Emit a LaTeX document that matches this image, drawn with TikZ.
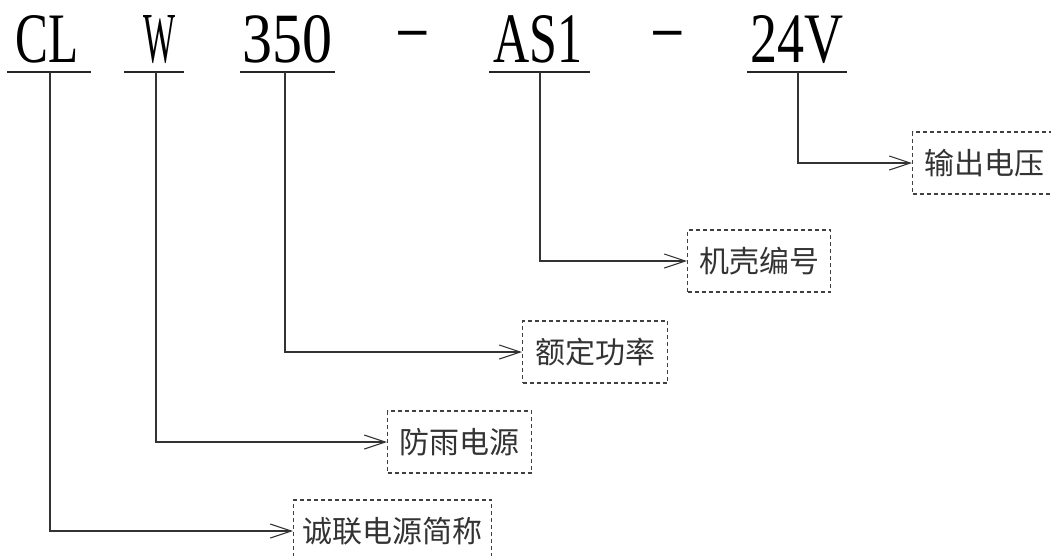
\documentclass[tikz,border=0pt]{standalone}
\usepackage{fontspec}
\usepackage{graphicx}
\newfontfamily\codefont{Liberation Serif}
\newfontfamily\cjk{Noto Sans CJK SC}
\usetikzlibrary{arrows.meta}
\begin{document}
\begin{tikzpicture}[x=1pt,y=-1pt,
  code/.style={inner sep=0pt, anchor=base west, text=black, font=\codefont},
  dashsym/.style={inner sep=0pt, anchor=base, text=black, font=\codefont},
  uline/.style={line width=1.3pt, draw=black!85},
  conn/.style={line width=1.3pt, draw=black!80, -{Straight Barb[length=21pt,width=14pt,line width=1.1pt]}},
  lbl/.style={draw=black!75, dash pattern=on 4pt off 3pt, line width=1.2pt,
    font=\cjk\fontsize{30}{30}\selectfont, text=black!80,
    minimum height=62pt, inner xsep=9pt, inner ysep=0pt, anchor=west}]
\useasboundingbox (0,0) rectangle (1051,555);
% code letters
\node[code] (cl)  at (15,62)  {\resizebox{63pt}{47pt}{\codefont CL}};
\node[code] (w)   at (143,62) {\resizebox{32pt}{47pt}{\codefont W}};
\node[code] (p)   at (242,62) {\resizebox{90pt}{47pt}{\codefont 350}};
\node[dashsym] (d1) at (413,45) {\scalebox{2.1}[1]{\codefont\fontsize{52}{52}\selectfont -}};
\node[code] (as)  at (493,62) {\resizebox{89pt}{47pt}{\codefont AS1}};
\node[dashsym] (d2) at (668,45) {\scalebox{2.1}[1]{\codefont\fontsize{52}{52}\selectfont -}};
\node[code] (v)   at (750,62) {\resizebox{93pt}{47pt}{\codefont 24V}};
% underlines
\draw[uline] (7,72) -- (91,72);
\draw[uline] (124,72) -- (184,72);
\draw[uline] (240,72) -- (335,72);
\draw[uline] (489,72) -- (590,72);
\draw[uline] (747,72) -- (847,72);
\coordinate (u1) at (50,72);
\coordinate (u2) at (156,72);
\coordinate (u3) at (285,72);
\coordinate (u4) at (540,72);
\coordinate (u5) at (798,72);
% label boxes
\node[lbl, minimum width=144pt] (b5) at (912,163) {输出电压};
\node[lbl, minimum width=143pt] (b4) at (687,261) {机壳编号};
\node[lbl, minimum width=145pt] (b3) at (522,352) {额定功率};
\node[lbl, minimum width=144pt] (b2) at (387,442) {防雨电源};
\node[lbl, minimum width=198pt] (b1) at (293,531) {诚联电源简称};
% connectors
\draw[conn] (u5) |- (b5.west);
\draw[conn] (u4) |- (b4.west);
\draw[conn] (u3) |- (b3.west);
\draw[conn] (u2) |- (b2.west);
\draw[conn] (u1) |- (b1.west);
\end{tikzpicture}
\end{document}
